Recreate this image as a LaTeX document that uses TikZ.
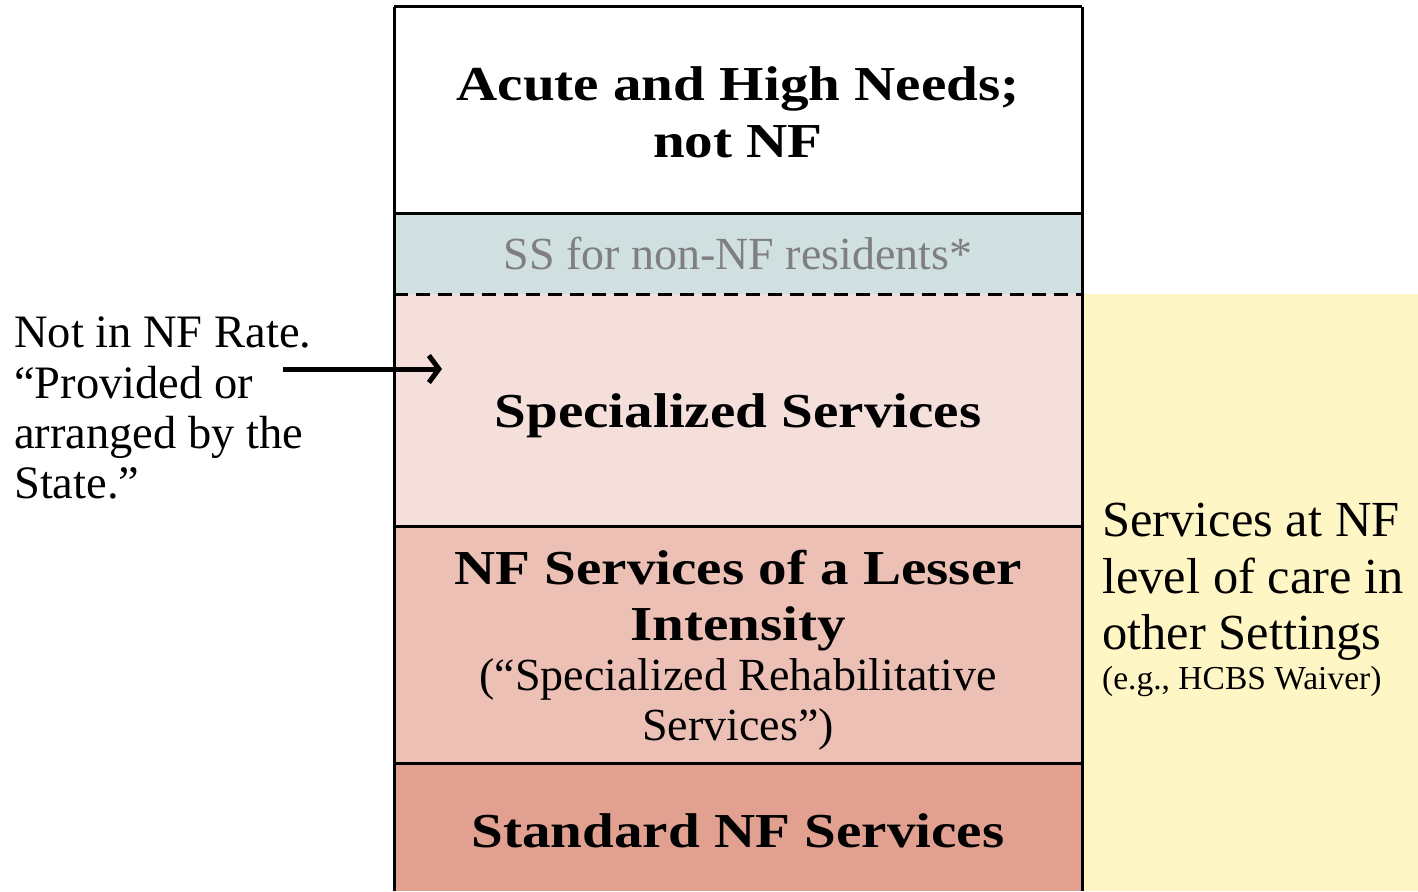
\documentclass[tikz,border=0pt]{standalone}
\usepackage{fontspec}
\setmainfont{Liberation Serif}
\newfontfamily\wideb[FakeStretch=1.17]{Liberation Serif}
\usetikzlibrary{arrows.meta}
\definecolor{ssblue}{HTML}{D0DFE0}
\definecolor{specpink}{HTML}{F4DFDA}
\definecolor{lesserpink}{HTML}{ECC0B5}
\definecolor{stdpink}{HTML}{E2A190}
\definecolor{yellowbg}{HTML}{FFF6C5}
\definecolor{graytxt}{HTML}{7F7F7F}
\begin{document}
\begin{tikzpicture}[x=1pt,y=-1pt,
  band/.style={draw=none, inner sep=0pt, outer sep=0pt, minimum width=688pt},
  txt/.style={inner sep=0pt, anchor=base},
  ltxt/.style={inner sep=0pt, anchor=base west},
  boldtxt/.style={txt, font=\wideb\bfseries\fontsize{48.8}{54}\selectfont},
  regtxt/.style={txt, font=\fontsize{46}{50}\selectfont},
  lefttxt/.style={ltxt, font=\fontsize{46.5}{50}\selectfont},
  righttxt/.style={ltxt, font=\fontsize{50.5}{55}\selectfont},
  smalltxt/.style={ltxt, font=\fontsize{33.5}{38}\selectfont},
  border/.style={line width=3pt, black},
  arrowline/.style={line width=5pt, -{Straight Barb[length=10pt,width=27pt,line width=5pt]}}
]
\useasboundingbox (0,0) rectangle (1418,891);
\fill[white] (0,0) rectangle (1418,891);

% bands
\node[band, fill=yellowbg, minimum width=336pt, minimum height=597pt] (yellow) at (1250,592.5) {};
\node[band, fill=white, minimum height=206pt] (acute) at (738,110) {};
\node[band, fill=ssblue, minimum height=81pt] (ss) at (738,253.5) {};
\node[band, fill=specpink, minimum height=232pt] (spec) at (738,410) {};
\node[band, fill=lesserpink, minimum height=237pt] (lesser) at (738,644.5) {};
\node[band, fill=stdpink, minimum height=128pt] (std) at (738,827) {};

% borders
\draw[border] (acute.north west) -- (acute.north east);
\draw[border] (acute.south west) -- (acute.south east);
\draw[border, dash pattern=on 14pt off 8pt] (ss.south west) -- (ss.south east);
\draw[border] (spec.south west) -- (spec.south east);
\draw[border] (lesser.south west) -- (lesser.south east);
\draw[border] (acute.north west) -- (std.south west);
\draw[border] (acute.north east) -- (std.south east);

% texts in column
\node[boldtxt] (t1) at (738,100) {Acute and High Needs;};
\node[boldtxt] (t2) at (738,157) {not NF};
\node[regtxt, text=graytxt] (t3) at (738,269) {SS for non-NF residents*};
\node[boldtxt] (t4) at (738,427) {Specialized Services};
\node[boldtxt] (t5) at (738,584) {NF Services of a Lesser};
\node[boldtxt] (t6) at (738,640) {Intensity};
\node[regtxt] (t7) at (738,690) {(“Specialized Rehabilitative};
\node[regtxt] (t8) at (738,740) {Services”)};
\node[boldtxt] (t9) at (738,847) {Standard NF Services};

% right text
\node[righttxt] (r1) at (1102,536) {Services at NF};
\node[righttxt] (r2) at (1102,593) {level of care in};
\node[righttxt] (r3) at (1102,649) {other Settings};
\node[smalltxt] (r4) at (1102,689) {(e.g., HCBS Waiver)};

% left text
\node[lefttxt] (l1) at (14,347) {Not in NF Rate.};
\node[lefttxt] (l2) at (14,398) {“Provided or};
\node[lefttxt] (l3) at (14,448) {arranged by the};
\node[lefttxt] (l4) at (14,498) {State.”};

% arrow
\coordinate (as) at (283,369);
\coordinate (ae) at (442,369);
\draw[arrowline] (as) -- (ae);
\end{tikzpicture}
\end{document}
